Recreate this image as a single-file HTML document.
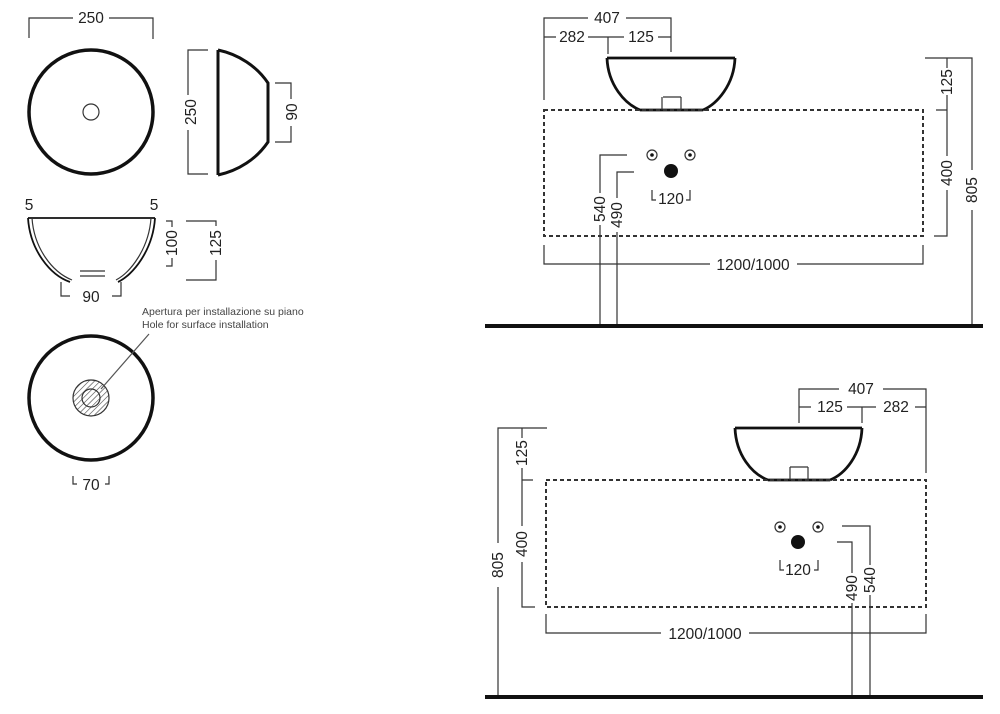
<!DOCTYPE html>
<html><head><style>body{margin:0;background:#fff}svg{display:block}text{font-family:"Liberation Sans",sans-serif;fill:#222}</style></head><body>
<svg width="1000" height="714" viewBox="0 0 1000 714" xmlns="http://www.w3.org/2000/svg">
<defs><pattern id="h" width="4" height="4" patternUnits="userSpaceOnUse" patternTransform="rotate(45)"><line x1="0" y1="0" x2="0" y2="4" stroke="#444" stroke-width="1.2"/></pattern></defs>
<g fill="none" stroke="#333" stroke-width="1.2">
<circle cx="91" cy="112" r="62" stroke="#111" stroke-width="3.5"/>
<circle cx="91" cy="112" r="8"/>
<path d="M29 38V18H73M109 18H153V39"/>
<path d="M208 50H188V95M188 130V174H208"/>
<path d="M218 50V175M218 50A80 75 0 0 1 268 83V142A80 75 0 0 1 218 175" stroke="#111" stroke-width="3"/>
<path d="M275 83H291V99M291 126V142H275"/>
<path d="M28 218H155M28 218C30 250 50 275 70 282M155 218C153 250 133 275 118 282" stroke="#111" stroke-width="1.8"/>
<path d="M32 218C34 248 52 272 72 280M151 218C149 248 131 272 116 280"/>
<path d="M80 271H105M80 276H105"/>
<path d="M61 282V296H70M112 296H121V282"/>
<path d="M166 221H172V227M172 258V266H166"/>
<path d="M186 221H216V226M216 260V280H186"/>
<circle cx="91" cy="398" r="62" stroke="#111" stroke-width="3.5"/>
<circle cx="91" cy="398" r="18" fill="url(#h)"/>
<circle cx="91" cy="398" r="9"/>
<path d="M101 389L149 334" stroke="#555"/>
<path d="M73 476V484H77M105 484H109V476"/>
<path d="M544 100V18H588M626 18H671V52M544 37H556M588 37H624M608 37V54M658 37H671"/>
<path d="M607 58H735M607 58C608 85 625 104 640 110M735 58C734 85 717 104 703 110M640 110H703" stroke="#111" stroke-width="2.8"/>
<path d="M663 97H681M662 97V110M681 97V110"/>
<rect x="544" y="110" width="379" height="126" stroke-dasharray="4,3" stroke-width="2"/>
<path d="M925 58H972V170M972 210V326M925 58H947V68M947 95V110M936 110H947V156M947 190V236H934"/>
<path d="M544 245V264H710M797 264H923V245"/>
<circle cx="652" cy="155" r="5"/><circle cx="690" cy="155" r="5"/>
<path d="M652 190V200H656M686 200H690V190"/>
<path d="M627 155H600V193M600 225V326M634 172H617V198M617 232V326"/>
<path d="M799 423V389H839M883 389H926V473M799 407H811M847 407H876M862 407V423M915 407H926"/>
<path d="M735 428H862M735 428C736 455 752 474 768 480M862 428C861 455 845 474 830 480M768 480H830" stroke="#111" stroke-width="2.8"/>
<path d="M790 467H808M790 467V480M808 467V480"/>
<rect x="546" y="480" width="380" height="127" stroke-dasharray="4,3" stroke-width="2"/>
<path d="M547 428H498V543M498 587V697M522 428V438M522 468V480H533M522 480V526M522 562V607H535"/>
<path d="M546 614V633H661M749 633H926V614"/>
<circle cx="780" cy="527" r="5"/><circle cx="818" cy="527" r="5"/>
<path d="M780 560V570H784M814 570H818V560"/>
<path d="M842 526H870V565M870 595V697M837 542H852V573M852 603V697"/>
</g>
<g fill="#111"><circle cx="652" cy="155" r="1.8"/><circle cx="690" cy="155" r="1.8"/><circle cx="671" cy="171" r="7"/>
<circle cx="780" cy="527" r="1.8"/><circle cx="818" cy="527" r="1.8"/><circle cx="798" cy="542" r="7"/></g>
<path d="M485 326H983" stroke="#111" stroke-width="4"/>
<path d="M485 697H983" stroke="#111" stroke-width="4"/>
<g font-size="15.5" text-anchor="middle">
<text x="91" y="23">250</text>
<text x="191" y="112" transform="rotate(-90 191 112)" dy="5">250</text>
<text x="292" y="112" transform="rotate(-90 292 112)" dy="5">90</text>
<text x="29" y="210">5</text><text x="154" y="210">5</text>
<text x="172" y="243" transform="rotate(-90 172 243)" dy="5">100</text>
<text x="216" y="243" transform="rotate(-90 216 243)" dy="5">125</text>
<text x="91" y="302">90</text>
<text x="91" y="490">70</text>
<text x="607" y="23">407</text><text x="572" y="42">282</text><text x="641" y="42">125</text>
<text x="947" y="82" transform="rotate(-90 947 82)" dy="5">125</text>
<text x="947" y="173" transform="rotate(-90 947 173)" dy="5">400</text>
<text x="972" y="190" transform="rotate(-90 972 190)" dy="5">805</text>
<text x="753" y="270">1200/1000</text>
<text x="671" y="204">120</text>
<text x="600" y="209" transform="rotate(-90 600 209)" dy="5">540</text>
<text x="617" y="215" transform="rotate(-90 617 215)" dy="5">490</text>
<text x="861" y="394">407</text><text x="830" y="412">125</text><text x="896" y="412">282</text>
<text x="522" y="453" transform="rotate(-90 522 453)" dy="5">125</text>
<text x="522" y="544" transform="rotate(-90 522 544)" dy="5">400</text>
<text x="498" y="565" transform="rotate(-90 498 565)" dy="5">805</text>
<text x="705" y="639">1200/1000</text>
<text x="798" y="575">120</text>
<text x="870" y="580" transform="rotate(-90 870 580)" dy="5">540</text>
<text x="852" y="588" transform="rotate(-90 852 588)" dy="5">490</text>
</g>
<g font-size="10.5"><text x="142" y="315" style="fill:#444">Apertura per installazione su piano</text><text x="142" y="328" style="fill:#444">Hole for surface installation</text></g>
</svg>
</body></html>
